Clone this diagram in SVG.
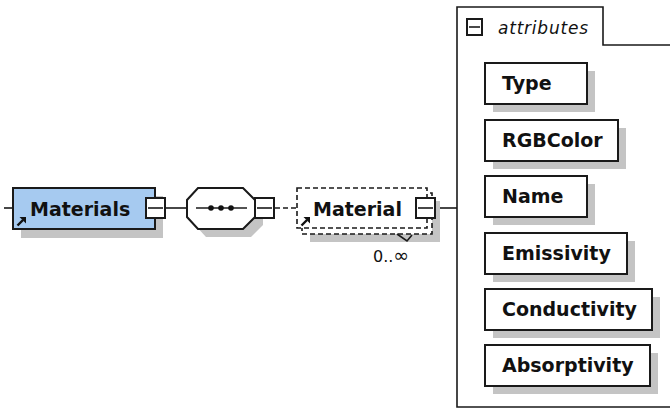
<svg xmlns="http://www.w3.org/2000/svg" width="670" height="409" viewBox="0 0 670 409">
<style>
.bg{fill:#fff}
.box{fill:#fff;stroke:#1a1a1a;stroke-width:2}
.shadow{fill:#c4c4c4}
.ln{stroke:#1a1a1a;stroke-width:1.6;fill:none}
.dash{stroke:#1a1a1a;stroke-width:1.6;fill:none;stroke-dasharray:5 3}
.lbl{font-family:"DejaVu Sans","Liberation Sans",sans-serif;font-weight:bold;font-size:19px;fill:#111}
.it{font-family:"DejaVu Sans","Liberation Sans",sans-serif;font-style:italic;font-size:17px;fill:#111}
.num{font-family:"DejaVu Sans","Liberation Sans",sans-serif;font-size:16px;fill:#111}
</style>
<defs>
<g id="ref">
<path d="M0.5,8.5 L6,3" stroke="#111" stroke-width="2.4" fill="none"/>
<polygon points="9,0 9,6.5 2.5,0" fill="#111"/>
</g>
</defs>
<rect class="bg" width="670" height="409"/>
<g id="connectors">
<line class="ln" x1="4" y1="208" x2="13" y2="208"/>
<line class="ln" x1="166" y1="208" x2="187" y2="208"/>
<line class="dash" x1="275" y1="208" x2="297" y2="208"/>
<line class="ln" x1="435" y1="208" x2="457" y2="208"/>
</g>
<g id="materials">
<rect class="shadow" x="21" y="196" width="142" height="42"/>
<rect x="13" y="188" width="142" height="41" fill="#a6caf0" stroke="#1a1a1a" stroke-width="2"/>
<use href="#ref" x="17" y="217"/>
<text class="lbl" x="30" y="216">Materials</text>
<rect class="box" x="146" y="198" width="19" height="20"/>
<line class="ln" x1="148" y1="208" x2="163" y2="208"/>
</g>
<g id="sequence">
<polygon class="shadow" points="206,196 251,196 263,208 263,225 251,237 206,237 195,225 195,208"/>
<polygon class="box" points="198,188 243,188 255,200 255,217 243,229 198,229 187,217 187,200"/>
<line class="ln" x1="196" y1="208" x2="247" y2="208"/>
<circle cx="211" cy="208" r="2.8" fill="#111"/>
<circle cx="221" cy="208" r="2.8" fill="#111"/>
<circle cx="231" cy="208" r="2.8" fill="#111"/>
<rect class="box" x="255" y="198" width="19" height="20"/>
<line class="ln" x1="257" y1="208" x2="272" y2="208"/>
</g>
<g id="material">
<rect class="shadow" x="310" y="201" width="130" height="41"/>
<rect x="302" y="193" width="130" height="41" fill="#fff" stroke="#1a1a1a" stroke-width="1.6" stroke-dasharray="5 3"/>
<rect x="297" y="188" width="130" height="40" fill="#fff" stroke="#1a1a1a" stroke-width="1.6" stroke-dasharray="5 3"/>
<use href="#ref" x="301" y="217"/>
<text class="lbl" x="313" y="216">Material</text>
<rect class="box" x="416" y="198" width="19" height="20"/>
<line class="ln" x1="418" y1="208" x2="433" y2="208"/>
<polyline class="ln" points="397,234 407,241 412,235"/>
<text class="num" x="373" y="262">0..<tspan font-size="19px">∞</tspan></text>
</g>
<g id="attributes">
<path class="ln" d="M672,45 H603 V7 H457 V407 H672" stroke-width="2"/>
<rect class="box" x="467" y="19" width="15" height="16" stroke-width="1.6"/>
<line class="ln" x1="469" y1="27" x2="480" y2="27"/>
<text class="it" x="498" y="34" textLength="90">attributes</text>
</g>
<g id="attr-type">
<rect class="shadow" x="493" y="71" width="102" height="41"/>
<rect class="box" x="485" y="63" width="102" height="41"/>
<text class="lbl" x="502" y="90">Type</text>
</g>
<g id="attr-rgbcolor">
<rect class="shadow" x="493" y="128" width="133" height="41"/>
<rect class="box" x="485" y="120" width="133" height="41"/>
<text class="lbl" x="502" y="147">RGBColor</text>
</g>
<g id="attr-name">
<rect class="shadow" x="493" y="184" width="102" height="41"/>
<rect class="box" x="485" y="176" width="102" height="41"/>
<text class="lbl" x="502" y="203">Name</text>
</g>
<g id="attr-emissivity">
<rect class="shadow" x="493" y="241" width="142" height="41"/>
<rect class="box" x="485" y="233" width="142" height="41"/>
<text class="lbl" x="502" y="260">Emissivity</text>
</g>
<g id="attr-conductivity">
<rect class="shadow" x="493" y="297" width="167" height="41"/>
<rect class="box" x="485" y="289" width="167" height="41"/>
<text class="lbl" x="502" y="316">Conductivity</text>
</g>
<g id="attr-absorptivity">
<rect class="shadow" x="493" y="353" width="165" height="41"/>
<rect class="box" x="485" y="345" width="165" height="41"/>
<text class="lbl" x="502" y="372">Absorptivity</text>
</g>
</svg>
